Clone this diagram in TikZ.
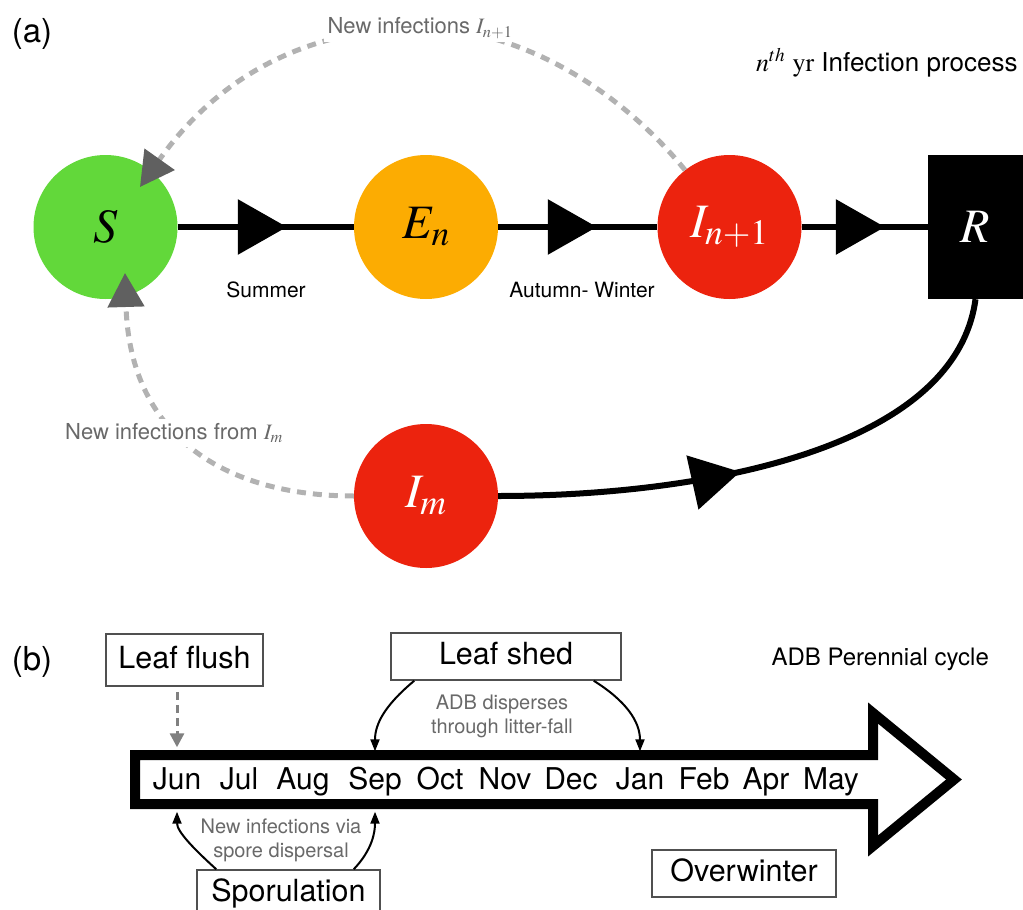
\documentclass[tikz,border=0pt]{standalone}
\usepackage{mathptmx}
\usepackage[no-math]{fontspec}
\setmainfont{TeX Gyre Heros}
\usetikzlibrary{arrows.meta,decorations.markings}
\definecolor{sgreen}{RGB}{98,216,58}
\definecolor{eorange}{RGB}{252,172,2}
\definecolor{ired}{RGB}{236,35,14}
\definecolor{dashgray}{RGB}{178,178,178}
\definecolor{headgray}{RGB}{96,96,96}
\definecolor{notegray}{RGB}{105,105,105}
\definecolor{boxgray}{RGB}{80,80,80}
\begin{document}
\begin{tikzpicture}[x=1pt,y=-1pt,
	comp/.style={circle,minimum size=144pt,inner sep=0pt,font=\fontsize{48}{50}\selectfont},
	flow/.style={line width=6pt,decoration={markings,mark=at position #1 with {\arrow{Triangle[length=49pt,width=54pt]}}},postaction={decorate}},
	infect/.style={draw=dashgray,line width=5pt,dash pattern=on 9pt off 7pt,-{Triangle[length=34pt,width=36pt,color=headgray]}},
	note/.style={text=notegray,fill=white,inner sep=4pt,font=\fontsize{22}{26}\selectfont},
	season/.style={font=\fontsize{21}{24}\selectfont},
	panel/.style={font=\fontsize{33}{38}\selectfont},
	event/.style={draw=boxgray,line width=1.5pt,inner sep=0pt,text height=22pt,text depth=6pt,font=\fontsize{30.5}{34}\selectfont},
	month/.style={inner sep=0pt,text height=22pt,text depth=6pt,minimum height=60pt,font=\fontsize{30}{34}\selectfont},
	spread/.style={text=notegray,align=center,font=\fontsize{20}{24}\selectfont},
	drop/.style={line width=2pt,-{Triangle[length=12pt,width=9pt]}}]
	\useasboundingbox (0,0) rectangle (1023,910);

	% (a) infection process
	\node[panel] (pa) at (32,34) {(a)};
	\node[anchor=base east,font=\fontsize{26}{30}\selectfont] (title) at (1021,71) {$n^{th}\ \mathrm{yr}$ Infection process};
	\node[comp,fill=sgreen] (S) at (105.5,227) {$S$};
	\node[comp,fill=eorange] (E) at (426,227) {$E_n$};
	\node[comp,fill=ired,text=white] (In1) at (729.5,227) {$I_{n+1}$};
	\node[fill=black,text=white,minimum width=95pt,minimum height=144pt,inner sep=0pt,font=\fontsize{48}{50}\selectfont] (R) at (975.5,227) {$R$};
	\node[comp,fill=ired,text=white] (Im) at (426,496) {$I_m$};
	\coordinate (Stop) at (140,187);
	\coordinate (Sbot) at (125,273);

	\draw[flow=0.62] (S) -- (E);
	\draw[flow=0.62] (E) -- (In1);
	\draw[flow=0.66] (In1) -- (R);
	\draw[flow=0.44] (Im.east) .. controls (700,496) and (955,450) .. (R.south);
	\node[season] (summer) at (266,290) {Summer};
	\node[season] (autumn) at (582,290) {Autumn- Winter};

	\draw[infect] (In1.128) .. controls (620,90) and (520,28) .. (420,28)
		node[note] (newA) {New infections $I_{n+1}$}
		.. controls (330,28) and (230,60) .. (Stop);
	\draw[infect] (Im.west) .. controls (230,496) and (130,440) .. (Sbot);
	\node[note] (newB) at (174,433) {New infections from $I_m$};

	% (b) perennial cycle
	\node[panel] (pb) at (32,662) {(b)};
	\node[anchor=base west,font=\fontsize{24}{28}\selectfont] (cycle) at (768,665) {ADB Perennial cycle};
	\draw[line width=10pt,miter limit=10] (135,755) -- (873,755) -- (873,713) -- (954,779.5) -- (873,846) -- (873,804) -- (135,804) -- cycle;
	\foreach \m/\x [count=\i] in {Jun/177,Jul/239,Aug/303,Sep/375,Oct/440,Nov/505,Dec/571,Jan/640,Feb/704,Apr/766,May/831}
		\node[month] (m\i) at (\x,781.5) {\m};

	\node[event,minimum width=157pt,minimum height=52pt] (flush) at (184.5,660) {Leaf flush};
	\node[event,minimum width=230pt,minimum height=47pt] (shed) at (506,656.5) {Leaf shed};
	\node[event,minimum width=183pt,minimum height=47pt] (spor) at (288.5,893.5) {Sporulation};
	\node[event,minimum width=184pt,minimum height=47pt] (winter) at (744,873.5) {Overwinter};

	\draw[draw=gray,line width=3pt,dash pattern=on 8pt off 5pt,shorten <=5pt,shorten >=4pt,-{Triangle[length=14pt,width=14pt,color=gray]}] (flush.south -| m1) -- (m1.north);
	\draw[drop] ([xshift=24pt]shed.south west) .. controls +(-30,25) and +(0,-27) .. (m4.north);
	\draw[drop] ([xshift=-28pt]shed.south east) .. controls +(32,20) and +(0,-30) .. (m8.north);
	\node[spread] (litter) at (502,716) {ADB disperses\\through litter-fall};
	\draw[drop] ([xshift=20pt]spor.north west) .. controls +(-22,-20) and +(0,20) .. (m1.south);
	\draw[drop] ([xshift=-27pt]spor.north east) .. controls +(19,-20) and +(0,20) .. (m4.south);
	\node[spread] (spores) at (281,840) {New infections via\\spore dispersal};
\end{tikzpicture}
\end{document}
